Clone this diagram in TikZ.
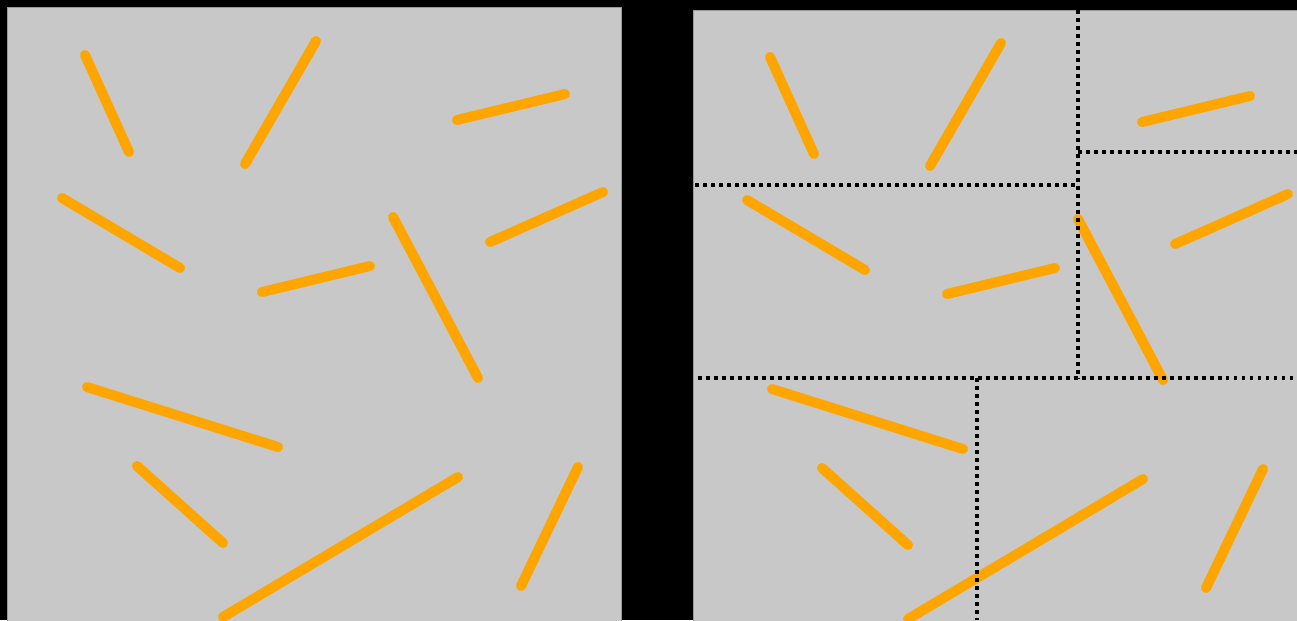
\documentclass[tikz,border=0pt]{standalone}
\usepackage{tikz}
\definecolor{panelgray}{HTML}{C8C8C8}
\definecolor{stickorange}{HTML}{FFA500}

\newcommand{\sticklist}{85/55/129/152, 316/41/245/164, 457/120/565/94,
  62/198/180/268, 262/292/370/266, 393/217/478/378, 490/242/603/192,
  87/387/278/447, 137/466/223/543, 223/617/458/477, 521/586/578/467}

\begin{document}
\begin{tikzpicture}[
                x=0.02cm, y=-0.02cm,
                panel/.style={fill=panelgray, draw=gray!80, line width=0.4pt},
                stick/.style={stickorange, line width=5.7pt, line cap=round},
                cut/.style={black, line width=2.3pt, dash pattern=on 2.2pt off 2.35pt}
            ]
                \fill[black] (0,0) rectangle (1297,620);
                \useasboundingbox (0,0) rectangle (1297,620);

                % left panel
                \draw[panel] (7.5,7.5) rectangle (621.5,625);
                \foreach \xa/\ya/\xb/\yb in \sticklist
                    \draw[stick] (\xa,\ya) -- (\xb,\yb);

                % right panel, same sticks shifted
                \draw[panel] (693,10) rectangle (1310,625);
                \begin{scope}[shift={(685,2)}]
                    \clip (8,8) rectangle (612,618);
                    \foreach \xa/\ya/\xb/\yb in \sticklist
                        \draw[stick] (\xa,\ya) -- (\xb,\yb);
                \end{scope}

                % partition
                \draw[cut] (1078,10) -- (1078,378);
                \draw[cut] (695,185) -- (1078,185);
                \draw[cut] (1078,152) -- (1297,152);
                \draw[cut] (698,378) -- (1297,378);
                \draw[cut] (977,378) -- (977,620);
            \end{tikzpicture}
\end{document}
